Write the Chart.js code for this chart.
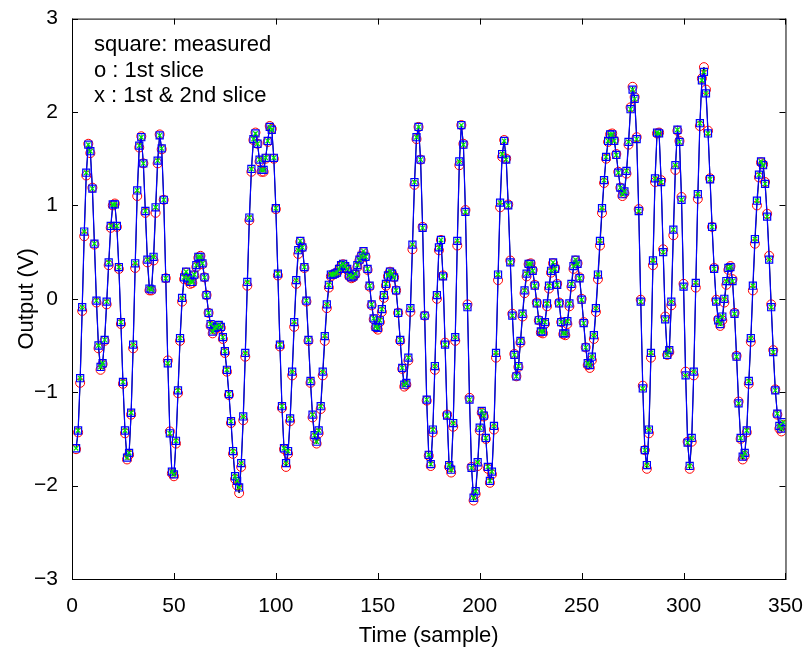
<!DOCTYPE html>
<html>
<head>
<meta charset="utf-8">
<script src="https://cdn.jsdelivr.net/npm/chart.js@4.4.0/dist/chart.umd.min.js"></script>
<style>
html, body { margin: 0; padding: 0; background: #fff; }
#caja { width: 810px; height: 653px; }
</style>
</head>
<body>
<div id="caja"><canvas id="salida" width="810" height="653"></canvas></div>
<script>
// valores, una muestra por punto
const medido = [
  -1.60, -1.41, -0.85, -0.09, 0.72, 1.35, 1.65, 1.58, 1.18, 0.59,
  -0.02, -0.50, -0.73, -0.69, -0.44, -0.03, 0.39, 0.78, 1.01, 1.01,
  0.78, 0.34, -0.25, -0.89, -1.41, -1.70, -1.65, -1.22, -0.49, 0.38,
  1.16, 1.64, 1.73, 1.45, 0.94, 0.42, 0.11, 0.10, 0.45, 0.98,
  1.48, 1.75,
  1.61, 1.06, 0.22, -0.69, -1.44, -1.85, -1.88, -1.52, -0.98, -0.42,
  0.01, 0.23, 0.29, 0.22, 0.18, 0.18, 0.26, 0.36, 0.45, 0.45,
  0.38, 0.23, 0.04, -0.15, -0.27, -0.35, -0.31, -0.30, -0.28, -0.30,
  -0.41, -0.56, -0.76, -1.02, -1.31, -1.63, -1.90, -1.95, -2.02, -1.76,
  -1.26, -0.58, 0.18, 0.87, 1.39,
  1.71, 1.77, 1.66, 1.49, 1.38, 1.38, 1.51, 1.69, 1.84, 1.81,
  1.51, 0.97, 0.27, -0.49, -1.15, -1.60, -1.76, -1.63, -1.28, -0.78,
  -0.25, 0.20, 0.52, 0.62, 0.55, 0.34, -0.02, -0.44, -0.88, -1.24,
  -1.46, -1.53, -1.41, -1.15, -0.78, -0.40, -0.06, 0.15, 0.26, 0.26,
  0.27, 0.28,
  0.32, 0.36, 0.375, 0.35, 0.32, 0.25, 0.23, 0.24, 0.27, 0.36, 0.42,
  0.46, 0.51, 0.45, 0.32, 0.14, -0.06, -0.21, -0.30, -0.31, -0.23,
  -0.11, 0.04, 0.16, 0.25, 0.29, 0.27, 0.23, 0.09, -0.15, -0.44,
  -0.74, -0.92, -0.90, -0.63, -0.10, 0.58, 1.25, 1.73, 1.84, 1.49,
  0.76, -0.18, -1.08, -1.67,
  -1.77, -1.40, -0.72, 0.04, 0.55, 0.63, 0.24, -0.49, -1.25, -1.78,
  -1.83, -1.33, -0.41, 0.62, 1.47, 1.86, 1.65, 0.93, -0.09, -1.08,
  -1.81, -2.13, -2.06, -1.75, -1.38, -1.20, -1.25, -1.49, -1.80, -1.95,
  -1.85, -1.36, -0.58, 0.26, 1.03, 1.55, 1.69, 1.49, 1.00, 0.39,
  -0.18, -0.60, -0.83,
  -0.72, -0.45, -0.16, 0.09, 0.27, 0.375, 0.375, 0.30, 0.14, -0.05,
  -0.23, -0.35, -0.35, -0.25, -0.05, 0.14, 0.30, 0.39, 0.32, 0.15,
  -0.05, -0.25, -0.37, -0.37, -0.24, -0.05, 0.16, 0.35, 0.42, 0.375,
  0.22, -0.01, -0.26, -0.52, -0.69, -0.71, -0.62, -0.39, -0.10, 0.26,
  0.62, 0.97, 1.27, 1.52, 1.69,
  1.76, 1.76, 1.69, 1.54, 1.35, 1.19, 1.12, 1.15, 1.37, 1.68,
  2.03, 2.24, 2.14, 1.71, 0.94, -0.03, -0.96, -1.62, -1.78, -1.40,
  -0.58, 0.41, 1.29, 1.78, 1.77, 1.25, 0.50, -0.22, -0.60, -0.55,
  -0.03, 0.74, 1.43, 1.81, 1.68, 1.06, 0.13, -0.82, -1.54, -1.79,
  -1.49, -0.78, 0.17,
  1.12, 1.88, 2.34, 2.43, 2.20, 1.77, 1.28, 0.77, 0.32, -0.03,
  -0.23, -0.27, -0.19, 0.00, 0.19, 0.33, 0.34, 0.19, -0.16, -0.62,
  -1.12, -1.49, -1.69, -1.65, -1.41, -0.88, -0.42, 0.14, 0.64, 1.05,
  1.33, 1.47, 1.43, 1.23, 0.88, 0.42, -0.09, -0.57, -0.98, -1.23,
  -1.36, -1.39, -1.32
];

// circulos rojos (1st slice), casi encima de los cuadrados
const corte1 = [
  -1.61, -1.43, -0.90, -0.13, 0.67, 1.32, 1.66, 1.56, 1.19, 0.58,
  -0.04, -0.53, -0.76, -0.70, -0.45, -0.06, 0.36, 0.76, 1.00, 1.02,
  0.77, 0.32, -0.27, -0.91, -1.44, -1.72, -1.67, -1.24, -0.53, 0.33,
  1.10, 1.62, 1.74, 1.45, 0.92, 0.39, 0.09, 0.09, 0.41, 0.92,
  1.45, 1.76,
  1.60, 1.06, 0.22, -0.66, -1.42, -1.87, -1.90, -1.55, -1.01, -0.45,
  -0.03, 0.21, 0.28, 0.20, 0.16, 0.17, 0.25, 0.34, 0.44, 0.46,
  0.37, 0.23, 0.04, -0.15, -0.29, -0.37, -0.33, -0.31, -0.29, -0.31,
  -0.43, -0.58, -0.78, -1.03, -1.33, -1.66, -1.93, -2.00, -2.08, -1.80,
  -1.30, -0.62, 0.14, 0.84, 1.36,
  1.70, 1.78, 1.66, 1.47, 1.36, 1.36, 1.50, 1.68, 1.85, 1.82,
  1.50, 0.96, 0.25, -0.51, -1.17, -1.61, -1.80, -1.66, -1.31, -0.82,
  -0.30, 0.16, 0.48, 0.61, 0.55, 0.33, -0.03, -0.45, -0.90, -1.27,
  -1.49, -1.55, -1.44, -1.18, -0.82, -0.45, -0.10, 0.12, 0.24, 0.26,
  0.27, 0.28,
  0.31, 0.35, 0.37, 0.34, 0.31, 0.24, 0.22, 0.23, 0.26, 0.34, 0.41,
  0.46, 0.50, 0.45, 0.31, 0.13, -0.07, -0.22, -0.31, -0.33, -0.25,
  -0.14, 0.01, 0.14, 0.24, 0.29, 0.27, 0.23, 0.09, -0.15, -0.45,
  -0.75, -0.94, -0.92, -0.66, -0.14, 0.53, 1.22, 1.71, 1.84, 1.49,
  0.77, -0.18, -1.09, -1.68,
  -1.79, -1.43, -0.76, 0.00, 0.52, 0.63, 0.25, -0.47, -1.24, -1.80,
  -1.86, -1.37, -0.45, 0.57, 1.43, 1.86, 1.66, 0.95, -0.06, -1.06,
  -1.80, -2.16, -2.09, -1.79, -1.41, -1.22, -1.26, -1.50, -1.82, -1.97,
  -1.88, -1.40, -0.63, 0.20, 0.98, 1.52, 1.70, 1.50, 1.01, 0.41,
  -0.16, -0.59, -0.83,
  -0.73, -0.47, -0.19, 0.06, 0.24, 0.37, 0.38, 0.31, 0.15, -0.04,
  -0.23, -0.36, -0.37, -0.27, -0.08, 0.11, 0.28, 0.38, 0.33, 0.16,
  -0.04, -0.25, -0.38, -0.39, -0.27, -0.08, 0.13, 0.32, 0.41, 0.38,
  0.23, 0.00, -0.25, -0.52, -0.71, -0.74, -0.66, -0.43, -0.14, 0.21,
  0.57, 0.92, 1.24, 1.50, 1.68,
  1.76, 1.77, 1.70, 1.55, 1.36, 1.19, 1.10, 1.13, 1.34, 1.65,
  2.05, 2.27, 2.16, 1.73, 0.96, -0.01, -0.93, -1.62, -1.82, -1.44,
  -0.63, 0.36, 1.25, 1.77, 1.78, 1.27, 0.53, -0.19, -0.60, -0.57,
  -0.07, 0.68, 1.38, 1.80, 1.69, 1.09, 0.16, -0.78, -1.53, -1.82,
  -1.53, -0.82, 0.12,
  1.07, 1.85, 2.36, 2.48, 2.24, 1.80, 1.29, 0.77, 0.33, -0.01,
  -0.22, -0.29, -0.23, -0.04, 0.15, 0.31, 0.35, 0.21, -0.15, -0.61,
  -1.10, -1.50, -1.72, -1.68, -1.43, -0.91, -0.46, 0.09, 0.59, 1.00,
  1.30, 1.46, 1.44, 1.25, 0.91, 0.46, -0.06, -0.55, -0.97, -1.24,
  -1.39, -1.42, -1.35
];

// las x verdes caen justo sobre los cuadrados en toda la figura
const corte12 = medido;

const muestras = medido.map((v, i) => i + 2);
const ticksX = [0, 50, 100, 150, 200, 250, 300, 350];
const ticksY = [-3, -2, -1, 0, 1, 2, 3];
const notas = ['square: measured', 'o : 1st slice', 'x : 1st & 2nd slice'];

const fuente = '"Liberation Sans", Arial, Helvetica, sans-serif';
Chart.defaults.font.family = fuente;
Chart.defaults.font.size = 21;
Chart.defaults.color = '#000';

const puntos = arr => arr.map((v, i) => ({x: muestras[i], y: v}));

// marco y ticks hacia adentro como en matlab, mas el texto de la esquina
const marco = {
  id: 'marco',
  afterDraw(chart) {
    const ctx = chart.ctx;
    const a = chart.chartArea;
    const sx = chart.scales.x, sy = chart.scales.y;
    ctx.save();
    ctx.strokeStyle = '#000';
    ctx.lineWidth = 1;
    ctx.strokeRect(a.left + 0.5, a.top + 0.5, a.right - a.left, a.bottom - a.top);
    ctx.beginPath();
    ticksX.forEach(v => {
      const px = Math.round(sx.getPixelForValue(v)) + 0.5;
      ctx.moveTo(px, a.bottom); ctx.lineTo(px, a.bottom - 6);
      ctx.moveTo(px, a.top); ctx.lineTo(px, a.top + 6);
    });
    ticksY.forEach(v => {
      const py = Math.round(sy.getPixelForValue(v)) + 0.5;
      ctx.moveTo(a.left, py); ctx.lineTo(a.left + 6, py);
      ctx.moveTo(a.right, py); ctx.lineTo(a.right - 6, py);
    });
    ctx.stroke();
    ctx.fillStyle = '#000';
    ctx.font = '22px ' + fuente;
    ctx.textAlign = 'left';
    ctx.textBaseline = 'alphabetic';
    notas.forEach((t, i) => ctx.fillText(t, 94, 51 + i * 25.5));
    ctx.restore();
  }
};

new Chart(document.getElementById('salida'), {
  type: 'line',
  data: {
    datasets: [{
      label: '1st slice',
      data: puntos(corte1),
      borderColor: '#000',
      borderWidth: 1,
      pointStyle: 'circle',
      pointRadius: 4.5,
      pointBorderColor: '#ff0000',
      pointBackgroundColor: 'rgba(0,0,0,0)',
      pointBorderWidth: 1,
      order: 3
    }, {
      label: 'measured',
      data: puntos(medido),
      borderColor: '#0000ff',
      borderWidth: 1.2,
      pointStyle: 'rect',
      pointRadius: 5,
      pointBorderColor: '#0000ff',
      pointBackgroundColor: 'rgba(0,0,0,0)',
      pointBorderWidth: 1.2,
      order: 2
    }, {
      label: '1st & 2nd slice',
      data: puntos(corte12),
      showLine: false,
      pointStyle: 'crossRot',
      pointRadius: 3.2,
      pointBorderColor: '#00ee00',
      pointBorderWidth: 1.2,
      order: 1
    }]
  },
  options: {
    responsive: false,
    animation: false,
    devicePixelRatio: 1,
    layout: { padding: { top: 17, right: 22, left: 0, bottom: 0 } },
    plugins: { legend: { display: false }, tooltip: { enabled: false } },
    scales: {
      x: {
        type: 'linear',
        min: 0, max: 350,
        grid: { display: false },
        border: { display: false },
        ticks: { stepSize: 50, padding: 7, maxRotation: 0 },
        title: { display: true, text: 'Time (sample)', font: { size: 22 }, padding: { top: 4, bottom: 4 } },
        afterFit: s => { s.height = 74; }
      },
      y: {
        min: -3, max: 3,
        grid: { display: false },
        border: { display: false },
        ticks: {
          stepSize: 1, padding: 6,
          callback: v => String(v).replace('-', '\u2212')
        },
        title: { display: true, text: 'Output (V)', font: { size: 22 }, padding: { top: 14, bottom: 0 } },
        afterFit: s => { s.width = 72; }
      }
    }
  },
  plugins: [marco]
});
</script>
</body>
</html>
